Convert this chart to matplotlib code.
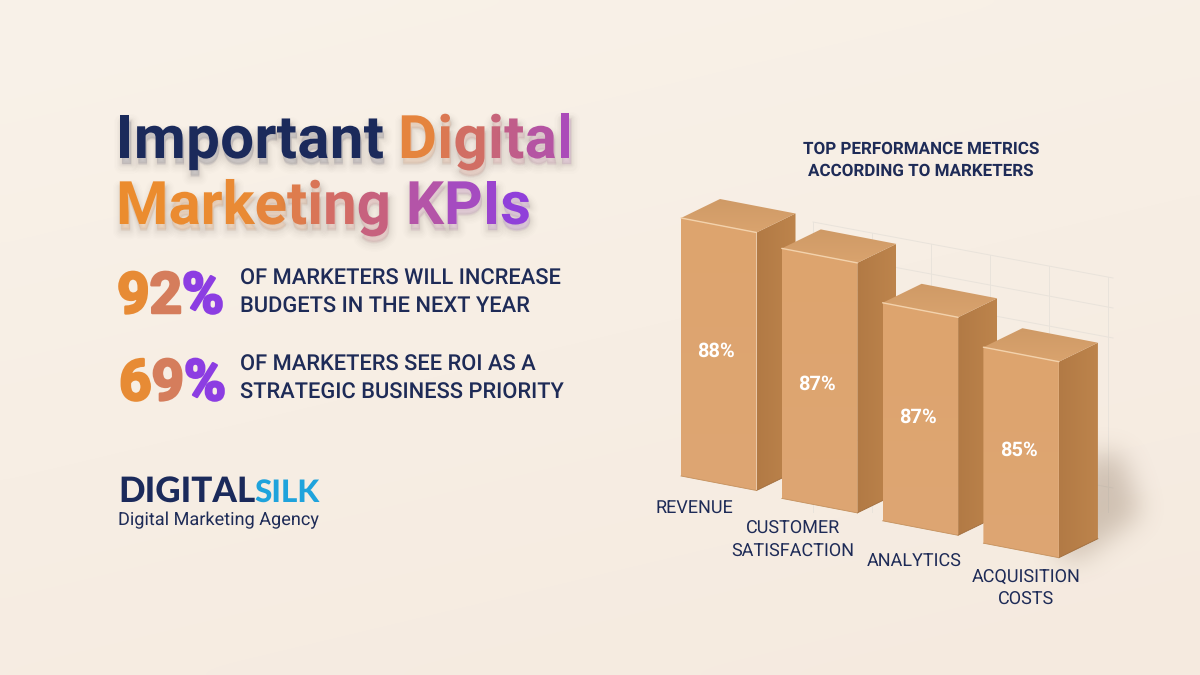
import numpy as np
import matplotlib
matplotlib.use("Agg")
import matplotlib.pyplot as plt
import matplotlib.patheffects as pe
from matplotlib.patches import Polygon
from matplotlib.path import Path
from matplotlib.font_manager import FontProperties
from matplotlib.textpath import TextToPath
from matplotlib.colors import to_rgb

plt.rcParams["text.hinting"] = "no_hinting"

# ---------- data ----------
CATEGORIES = [["REVENUE"], ["CUSTOMER", "SATISFACTION"], ["ANALYTICS"], ["ACQUISITION", "COSTS"]]
VALUES = [88, 87, 87, 85]
APPARENT_HEIGHTS = [258, 250, 218, 196]   # drawn height of each bar in the picture (not to value scale)
TITLE_LINE1 = ["Important ", "Digital"]
TITLE_LINE2 = "Marketing KPIs"
STATS = [(92, ["OF MARKETERS WILL INCREASE", "BUDGETS IN THE NEXT YEAR"]),
         (69, ["OF MARKETERS SEE ROI AS A", "STRATEGIC BUSINESS PRIORITY"])]
CHART_TITLE = ["TOP PERFORMANCE METRICS", "ACCORDING TO MARKETERS"]
LOGO = ["DIGITAL", "SILK"]
LOGO_SUB = "Digital Marketing Agency"

NAVY = "#1B2A5B"
TEXT = "#1E2B57"
FAMILY = ["Roboto", "DejaVu Sans"]
LOGO_FONT = ["Lato", "DejaVu Sans"]
PX = 0.72  # points per pixel at 100 dpi

fig = plt.figure(figsize=(12, 6.75), dpi=100)
ax = fig.add_axes([0, 0, 1, 1])
ax.set_axis_off()

# background
yy, xx = np.mgrid[0:1:60j, 0:1:100j]
c0, c1 = np.array(to_rgb("#F9F2E9")), np.array(to_rgb("#F5EADF"))
t = (0.3 * xx + 0.7 * yy)[..., None]
ax.imshow(c0 + (c1 - c0) * t, extent=(0, 1200, 675, 0), aspect="auto", zorder=0, interpolation="bicubic")
ax.set_xlim(0, 1200)
ax.set_ylim(675, 0)

ttp = TextToPath()


def adv(s, prop, size_px):
    p = prop.copy()
    p.set_size(size_px)
    return ttp.get_text_width_height_descent(s, p, False)[0]


def ramp(t, stops):
    xs = [s[0] for s in stops]
    cols = np.array([to_rgb(s[1]) for s in stops])
    return tuple(np.interp(t, xs, cols[:, k]) for k in range(3))


def char_text(x, y, s, size_px, weight, color_fn, width=None, effects=None, family=FAMILY, zorder=5, embolden=0):
    """Real text, one glyph per colour, following the kerned advance of the line."""
    prop = FontProperties(family=family, weight=weight)
    total = adv(s, prop, size_px)
    track = 0 if width is None else (width - total) / max(len(s) - 1, 1)
    span = total + track * (len(s) - 1)
    for i, ch in enumerate(s):
        if ch == " ":
            continue
        dx = adv(s[:i + 1], prop, size_px) - adv(ch, prop, size_px) + track * i
        cw = adv(ch, prop, size_px)
        col = color_fn((dx + cw / 2) / span)
        tx = ax.text(x + dx, y, ch, fontsize=size_px * PX, fontweight=weight, family=family,
                     color=col, ha="left", va="baseline", zorder=zorder)
        if embolden:
            tx.set_path_effects([pe.withStroke(linewidth=embolden, foreground=col)])
        elif effects:
            tx.set_path_effects(effects)


# soft, wide drop shadow built from widening translucent strokes
shadow = [pe.Stroke(offset=(1, -o), linewidth=w, foreground="#6A5B58", alpha=a)
          for o, w, a in [(5, 12, .010), (5, 10, .012), (5, 8, .014), (4.5, 6, .018),
                          (4.5, 4.5, .022), (4, 3, .026), (4, 1.5, .03), (3.5, .5, .03)]]
shadow.append(pe.Normal())

title_stops = [(0, "#EC8C2C"), (.34, "#E98A35"), (.58, "#CE6670"), (.78, "#AE50B4"), (1, "#8A3BE2")]
digital_stops = [(0, "#EC8C30"), (.45, "#CF6B68"), (1, "#A848C0")]
stat_stops = [(0, "#E98C30"), (.25, "#E58A38"), (.5, "#D27A64"), (.72, "#8D3EE0"), (1, "#8A3BE6")]

# title
TITLE_X, L1, L2, TS = 116, 158, 224, 60
char_text(TITLE_X, L1, TITLE_LINE1[0].rstrip(), TS, "bold", lambda t: NAVY, width=268, effects=shadow)
char_text(398, L1, TITLE_LINE1[1], TS, "bold", lambda t: ramp(t, digital_stops), width=175, effects=shadow)
char_text(TITLE_X, L2, TITLE_LINE2, TS, "bold", lambda t: ramp(t, title_stops), width=415, effects=shadow)

# stats
for (val, lines), x0, base, y1, y2 in zip(STATS, (117, 119), (313, 400), (285, 371), (313, 399)):
    char_text(x0, base, f"{val}%", 57, "bold", lambda t: ramp(t, stat_stops), width=107, embolden=1.8)
    for line, yb in zip(lines, (y1, y2)):
        ax.text(240, yb, line, fontsize=21.9 * PX, fontweight="medium", family=FAMILY, color=TEXT,
                ha="left", va="baseline", zorder=5)

# logo
ax.text(118, 502, LOGO[0], fontsize=35 * PX, fontweight="black", family=LOGO_FONT, color=NAVY, ha="left", va="baseline", zorder=5)
ax.text(254.5, 502, LOGO[1], fontsize=31.5 * PX, fontweight="black", family=LOGO_FONT, color="#1FA3DC", ha="left", va="baseline", zorder=5)
ax.text(118, 525, LOGO_SUB, fontsize=18.2 * PX, family=FAMILY, color=TEXT, ha="left", va="baseline", zorder=5)

# chart title
for line, yb in zip(CHART_TITLE, (153.5, 175.5)):
    ax.text(921, yb, line, fontsize=17 * PX, fontweight="bold", family=FAMILY, color=TEXT,
            ha="center", va="baseline", zorder=5)

# ---------- oblique projection of the bars ----------
ORIGIN = np.array([681.0, 476.0])      # front-left foot of the first bar
ROW = np.array([100.8, 22.4])          # step from one category to the next
ALONG = np.array([75.5, 14.5])         # width of a bar's front face
DEPTH = np.array([39.0, -19.0])        # depth of a bar
UP = np.array([0.0, -1.0])


def proj(i, u, d, h):
    return ORIGIN + ROW * i + ALONG * u + DEPTH * d + UP * h


# back wall grid
GRID = "#E9E3DB"
for k in range(6):
    xg = 813 + 59 * k
    ax.plot([xg, xg], [222 + (xg - 813) * .187, 512], color=GRID, lw=.7, zorder=1)
for k in (0, 1, 2, 7):
    ax.plot([813, 1113], [222 + 30 * k, 278 + 30 * k], color=GRID, lw=.7, zorder=1)

# soft cast shadow: a polygon mask smoothed by repeated box filtering
n = len(VALUES)
sx0, sx1, sy0, sy1 = 1000, 1200, 400, 620
gx, gy = np.meshgrid(np.arange(sx0, sx1, 2.0), np.arange(sy0, sy1, 2.0))
foot = proj(n - 1, 1, 0, 0)
back = proj(n - 1, 1, 1, 0)
outline = Path([foot + (-6, -4), foot + (18, 2), back + (42, -26), back + (22, -85), back + (-10, -85), foot + (-6, -4)])
mask = outline.contains_points(np.c_[gx.ravel(), gy.ravel()]).reshape(gx.shape).astype(float)
kernel = np.ones(11) / 11
for _ in range(4):
    mask = np.apply_along_axis(lambda r: np.convolve(r, kernel, mode="same"), 0, mask)
    mask = np.apply_along_axis(lambda r: np.convolve(r, kernel, mode="same"), 1, mask)
rgba = np.zeros(mask.shape + (4,))
rgba[..., :3] = to_rgb("#7A6048")
rgba[..., 3] = mask * 0.30
ax.imshow(rgba, extent=(sx0, sx1, sy1, sy0), aspect="auto", zorder=2, interpolation="bilinear")
ax.set_xlim(0, 1200)
ax.set_ylim(675, 0)


def face(pts, c_a, c_b, horizontal, z):
    pts = np.array(pts)
    poly = Polygon(pts, closed=True, fc="none", ec="none", transform=ax.transData)
    ax.add_patch(poly)
    grad = np.linspace(0, 1, 64)
    img = np.outer(grad, np.ones(2)) if not horizontal else np.outer(np.ones(2), grad)
    a, b = np.array(to_rgb(c_a)), np.array(to_rgb(c_b))
    rgb = a + (b - a) * img[..., None]
    x0, x1, y0, y1 = pts[:, 0].min(), pts[:, 0].max(), pts[:, 1].min(), pts[:, 1].max()
    im = ax.imshow(rgb, extent=(x0, x1, y1, y0), aspect="auto", zorder=z, interpolation="bilinear")
    im.set_clip_path(poly)


# bars, drawn left to right so that each covers the one before it
for i, h in enumerate(APPARENT_HEIGHTS):
    z = 3 + i * 0.1
    front = [proj(i, 0, 0, h), proj(i, 1, 0, h), proj(i, 1, 0, 0), proj(i, 0, 0, 0)]
    side = [proj(i, 1, 0, h), proj(i, 1, 1, h), proj(i, 1, 1, 0), proj(i, 1, 0, 0)]
    top = [proj(i, 0, 0, h), proj(i, 0, 1, h), proj(i, 1, 1, h), proj(i, 1, 0, h)]
    face(side, "#B27A45", "#BD844C", True, z)
    face(front, "#DDA46E", "#DEA673", False, z + .01)
    face(top, "#CF9A66", "#D9A36E", False, z + .02)
    ax.plot(*zip(front[0], front[1]), color="#F3D2AC", lw=1.0, zorder=z + .03, solid_capstyle="round")
    ax.plot(*zip(side[3], side[2]), color="#A06C3B", lw=.6, zorder=z + .03)
    ax.plot(*zip(front[2], front[3]), color="#C4905C", lw=.6, zorder=z + .03)

LABEL_START = np.array([715.5, 351.0])
LABEL_STEP = np.array([101.3, 33.0])
for i, v in enumerate(VALUES):
    p = LABEL_START + LABEL_STEP * i
    ax.text(p[0], p[1], f"{v}%", fontsize=20 * PX, fontweight="bold", family=FAMILY, color="white",
            ha="center", va="center", zorder=6)

# category labels
LABEL_POS = [(694, [512.5]), (793, [533.5, 556.5]), (914, [566.5]), (1026, [582.5, 604.5])]
for lines, (cx, ys) in zip(CATEGORIES, LABEL_POS):
    for line, yb in zip(lines, ys):
        ax.text(cx, yb, line, fontsize=18 * PX, family=FAMILY, color=TEXT, ha="center", va="baseline", zorder=6)

fig.savefig("out.png", dpi=100)
